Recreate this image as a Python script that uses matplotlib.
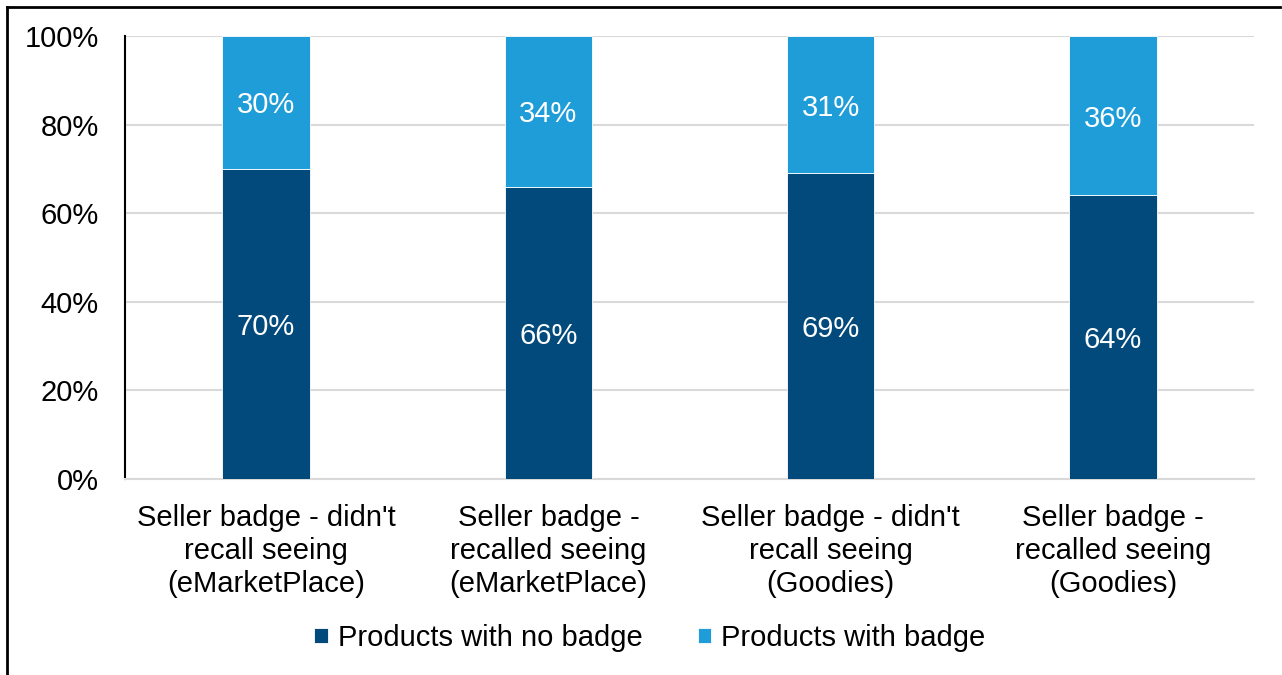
import matplotlib

matplotlib.use("Agg")
import matplotlib.pyplot as plt
from matplotlib.lines import Line2D
from matplotlib.ticker import FuncFormatter

plt.rcParams["font.family"] = ["Liberation Sans", "DejaVu Sans"]

categories = [
    "Seller badge - didn't\nrecall seeing\n(eMarketPlace)",
    "Seller badge -\nrecalled seeing\n(eMarketPlace)",
    "Seller badge - didn't\nrecall seeing\n(Goodies)",
    "Seller badge -\nrecalled seeing\n(Goodies)",
]
no_badge = [70, 66, 69, 64]
with_badge = [30, 34, 31, 36]
series_names = ["Products with no badge", "Products with badge"]

DARK = "#024a7c"
LIGHT = "#1f9dd9"
FS = 21

fig = plt.figure(figsize=(12.82, 6.75), dpi=100)
ax = fig.add_axes([125 / 1282, 1 - 479 / 675, (1254 - 125) / 1282, (479 - 36) / 675])

x = range(len(categories))
width = 0.31
b1 = ax.bar(x, no_badge, width, color=DARK, edgecolor="white", linewidth=0.6,
            label=series_names[0], zorder=3)
b2 = ax.bar(x, with_badge, width, bottom=no_badge, color=LIGHT, edgecolor="white",
            linewidth=0.6, label=series_names[1], zorder=3)

for bars, vals, bottoms in ((b1, no_badge, [0] * 4), (b2, with_badge, no_badge)):
    for rect, v, b in zip(bars, vals, bottoms):
        ax.text(rect.get_x() + rect.get_width() / 2, b + v / 2, f"{v}%",
                ha="center", va="center_baseline", color="white", fontsize=FS, zorder=4)

ax.set_xlim(-0.5, len(categories) - 0.5)
ax.set_ylim(0, 100)
ax.set_yticks(range(0, 101, 20))
ax.yaxis.set_major_formatter(FuncFormatter(lambda v, _: f"{v:.0f}%"))
ax.set_xticks(list(x))
ax.set_xticklabels(categories, fontsize=FS, linespacing=1.22)
ax.tick_params(axis="y", labelsize=FS, length=0, pad=19)
ax.tick_params(axis="x", length=0, pad=18)
ax.grid(axis="y", color="#d9d9d9", linewidth=1.5, zorder=0)

for side in ("top", "right"):
    ax.spines[side].set_visible(False)
ax.spines["left"].set_color("black")
ax.spines["left"].set_linewidth(1.5)
ax.spines["bottom"].set_color("#d9d9d9")
ax.spines["bottom"].set_linewidth(1.5)

leg = fig.legend(handles=[b1, b2], loc="center", bbox_to_anchor=(650 / 1282, 1 - 638 / 675),
                 ncol=2, frameon=False, fontsize=FS, handlelength=0.45, handleheight=0.45,
                 handletextpad=0.35, columnspacing=1.9)

# outer frame: left and top edges only
fig.add_artist(Line2D([7 / 1282, 7 / 1282], [0, 1 - 7 / 675], transform=fig.transFigure,
                      color="black", linewidth=2))
fig.add_artist(Line2D([7 / 1282, 1280 / 1282], [1 - 7 / 675, 1 - 7 / 675],
                      transform=fig.transFigure, color="black", linewidth=2))

fig.savefig("out.png", dpi=100)
